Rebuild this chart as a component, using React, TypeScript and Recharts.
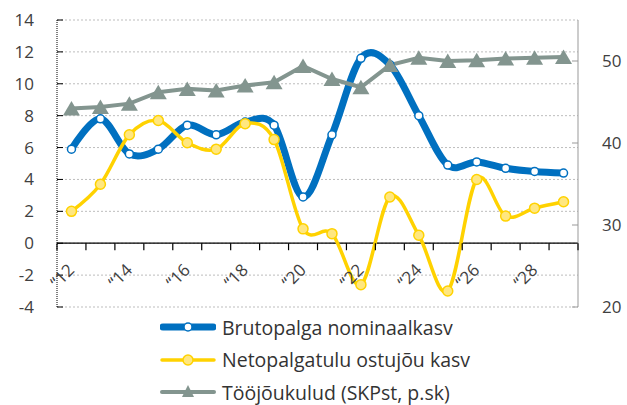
import { LineChart, Line, XAxis, YAxis, CartesianGrid, Legend, ReferenceLine } from 'recharts';

const years = ['2012', '2013', '2014', '2015', '2016', '2017', '2018', '2019', '2020', '2021', '2022', '2023', '2024', '2025', '2026', '2027', '2028', '2029'];
const yearLabels = ['“12', '', '“14', '', '“16', '', '“18', '', '“20', '', '“22', '', '“24', '', '“26', '', '“28', ''];

const brutopalk = [5.9, 7.8, 5.6, 5.9, 7.4, 6.8, 7.6, 7.4, 2.9, 6.8, 11.6, 11.2, 8.0, 4.9, 5.1, 4.7, 4.5, 4.4];
const ostujoud = [2.0, 3.7, 6.8, 7.7, 6.3, 5.9, 7.5, 6.5, 0.9, 0.6, -2.6, 2.9, 0.5, -3.0, 4.0, 1.7, 2.2, 2.6];
const toojoukulud = [44.2, 44.4, 44.8, 46.2, 46.6, 46.4, 47.0, 47.4, 49.4, 47.8, 46.8, 49.5, 50.4, 50.0, 50.1, 50.3, 50.4, 50.5];

const leftTicks = [-4, -2, 0, 2, 4, 6, 8, 10, 12, 14];
const rightTicks = [20, 30, 40, 50];

const data = years.map((year, i) => ({
    year,
    brutopalk: brutopalk[i],
    ostujoud: ostujoud[i],
    toojoukulud: toojoukulud[i],
}));

const W = 627;
const H = 405;
const LEFT_W = 57;
const RIGHT_W = 49;
const TOP = 20;
const PLOT_BOTTOM = 307;
const X_AXIS_H = 30;
const PLOT_W = W - LEFT_W - RIGHT_W;
const PLOT_H = PLOT_BOTTOM - TOP;
const BAND = PLOT_W / years.length;

const blue = '#0070C0';
const yellow = '#FFD200';
const yellowFill = '#FFE780';
const gray = '#83958F';
const font = '"Open Sans", sans-serif';

// Excel-like smoothing (catmull-rom, 1/6 control points)
const excelSmooth = (context: any) => {
    const k = 1 / 6;
    let x0 = NaN, y0 = NaN, x1 = NaN, y1 = NaN, x2 = NaN, y2 = NaN, n = 0;
    const seg = (x: number, y: number) =>
        context.bezierCurveTo(x1 + k * (x2 - x0), y1 + k * (y2 - y0), x2 + k * (x1 - x), y2 + k * (y1 - y), x2, y2);
    return {
        areaStart() {},
        areaEnd() {},
        lineStart() {
            x0 = x1 = x2 = y0 = y1 = y2 = NaN;
            n = 0;
        },
        lineEnd() {
            if (n === 2) context.lineTo(x2, y2);
            else if (n === 3) seg(x1, y1);
        },
        point(x: number, y: number) {
            if (n === 0) {
                n = 1;
                context.moveTo(x, y);
            } else if (n === 1) {
                n = 2;
                x1 = x;
                y1 = y;
            } else {
                n = 3;
                seg(x, y);
            }
            x0 = x1; x1 = x2; x2 = x;
            y0 = y1; y1 = y2; y2 = y;
        },
    };
};

const XTick = (props: any) => {
    const { x, index } = props;
    const lmin = leftTicks[0];
    const lmax = leftTicks[leftTicks.length - 1];
    const zeroY = TOP + ((lmax - 0) / (lmax - lmin)) * PLOT_H;
    const lx = x - BAND / 2;
    const ax = x + 4;
    const ay = zeroY + 28;
    return (
        <g>
            <line x1={lx} y1={zeroY} x2={lx} y2={zeroY + 7} stroke="#000" strokeWidth={1.2} />
            {index === years.length - 1 && (
                <line x1={x + BAND / 2} y1={zeroY} x2={x + BAND / 2} y2={zeroY + 7} stroke="#000" strokeWidth={1.2} />
            )}
            {yearLabels[index] && (
                <text x={ax} y={ay} transform={`rotate(-45 ${ax} ${ay})`} textAnchor="end" fontSize={17} fontFamily={font} fill="#404040">
                    {yearLabels[index]}
                </text>
            )}
        </g>
    );
};

const Triangle = (props: any) => {
    const { cx, cy, index } = props;
    return <path key={`tri-${index}`} d={`M${cx},${cy - 7.5} L${cx + 8.5},${cy + 7} L${cx - 8.5},${cy + 7} Z`} fill={gray} />;
};

const Sample = ({ kind }: { kind: string }) => {
    if (kind === 'brutopalk') {
        return (
            <svg width={56} height={20}>
                <line x1={3} y1={10} x2={53} y2={10} stroke={blue} strokeWidth={7} strokeLinecap="round" />
                <circle cx={28} cy={10} r={4} fill="#fff" stroke={blue} strokeWidth={1.5} />
            </svg>
        );
    }
    if (kind === 'ostujoud') {
        return (
            <svg width={56} height={20}>
                <line x1={2} y1={10} x2={54} y2={10} stroke={yellow} strokeWidth={3.5} strokeLinecap="round" />
                <circle cx={28} cy={10} r={5} fill={yellowFill} stroke={yellow} strokeWidth={1.5} />
            </svg>
        );
    }
    return (
        <svg width={56} height={20}>
            <line x1={2} y1={10} x2={54} y2={10} stroke={gray} strokeWidth={4} strokeLinecap="round" />
            <path d="M28,3 L34,15 L22,15 Z" fill={gray} />
        </svg>
    );
};

const LegendContent = (props: any) => {
    const payload = props.payload || [];
    return (
        <div style={{ fontFamily: font, fontSize: 19.5, color: '#333' }}>
            {payload.map((p: any) => (
                <div key={p.value} style={{ display: 'flex', alignItems: 'center', height: 32.5 }}>
                    <Sample kind={p.dataKey} />
                    <span style={{ marginLeft: 6, whiteSpace: 'nowrap' }}>{p.value}</span>
                </div>
            ))}
        </div>
    );
};

export default function App() {
    return (
        <div style={{ width: W, height: H }}>
            <style>{'body{margin:0}'}</style>
            <LineChart
                width={W}
                height={H}
                data={data}
                margin={{ top: TOP, right: 0, left: 0, bottom: H - PLOT_BOTTOM - X_AXIS_H }}
            >
                <CartesianGrid yAxisId="left" vertical={false} stroke="#bdbdbd" strokeDasharray="2 2" />
                <XAxis
                    dataKey="year"
                    interval={0}
                    axisLine={false}
                    tickLine={false}
                    height={X_AXIS_H}
                    padding={{ left: BAND / 2, right: BAND / 2 }}
                    tick={<XTick />}
                />
                <YAxis
                    yAxisId="left"
                    orientation="left"
                    width={LEFT_W}
                    domain={[-4, 14]}
                    ticks={leftTicks}
                    interval={0}
                    tickSize={-6}
                    tickMargin={29}
                    axisLine={{ stroke: '#000', strokeDasharray: '1 1' }}
                    tickLine={{ stroke: '#000' }}
                    tick={{ fontSize: 17, fontFamily: font, fill: '#404040' }}
                />
                <YAxis
                    yAxisId="right"
                    orientation="right"
                    width={RIGHT_W}
                    domain={[20, 55]}
                    ticks={rightTicks}
                    interval={0}
                    tickSize={-6}
                    tickMargin={30}
                    axisLine={{ stroke: '#999' }}
                    tickLine={{ stroke: '#999' }}
                    tick={{ fontSize: 17, fontFamily: font, fill: '#404040' }}
                />
                <ReferenceLine yAxisId="left" y={0} stroke="#000" strokeWidth={1.3} />
                <Line
                    yAxisId="left"
                    dataKey="brutopalk"
                    name="Brutopalga nominaalkasv"
                    type={excelSmooth as any}
                    stroke={blue}
                    strokeWidth={7}
                    dot={{ r: 4, fill: '#fff', stroke: blue, strokeWidth: 1.5 }}
                    activeDot={false}
                    isAnimationActive={false}
                />
                <Line
                    yAxisId="left"
                    dataKey="ostujoud"
                    name="Netopalgatulu ostujõu kasv"
                    type={excelSmooth as any}
                    stroke={yellow}
                    strokeWidth={3.5}
                    dot={{ r: 5, fill: yellowFill, stroke: yellow, strokeWidth: 1.5 }}
                    activeDot={false}
                    isAnimationActive={false}
                />
                <Line
                    yAxisId="right"
                    dataKey="toojoukulud"
                    name="Tööjõukulud (SKPst, p.sk)"
                    type="linear"
                    stroke={gray}
                    strokeWidth={4}
                    dot={(p: any) => <Triangle {...p} />}
                    activeDot={false}
                    isAnimationActive={false}
                />
                <Legend
                    layout="vertical"
                    align="center"
                    verticalAlign="middle"
                    content={<LegendContent />}
                    wrapperStyle={{ top: 311, left: 160, width: 340 }}
                />
            </LineChart>
        </div>
    );
}
